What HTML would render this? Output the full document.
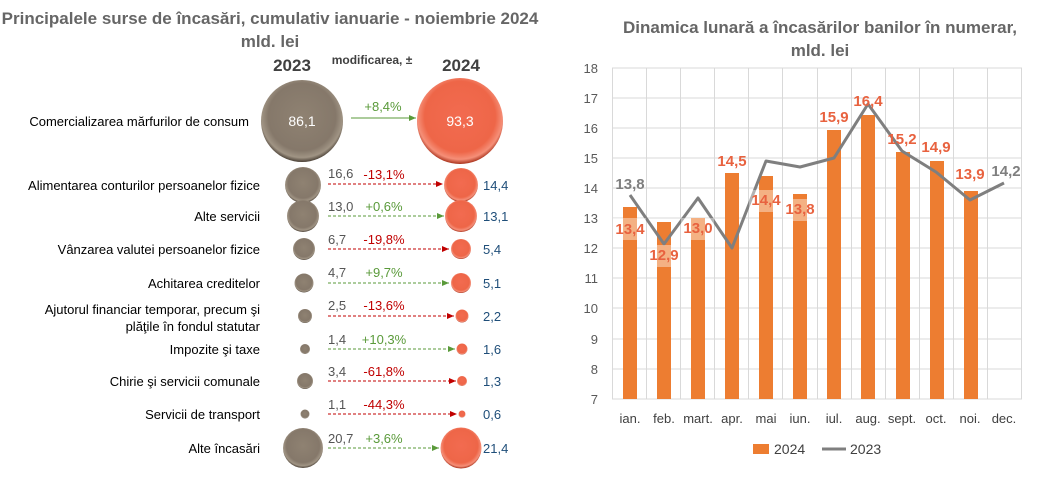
<!DOCTYPE html>
<html><head><meta charset="utf-8"><style>
body{margin:0;background:#fff;}
text{font-family:"Liberation Sans",Arial,sans-serif;}
</style></head><body>
<svg width="1048" height="487" viewBox="0 0 1048 487" xmlns="http://www.w3.org/2000/svg">
<defs>
<radialGradient id="gb" cx="50%" cy="45%" r="55%">
<stop offset="0" stop-color="#8f8272"/><stop offset="0.75" stop-color="#85786a"/><stop offset="0.9" stop-color="#a09484"/><stop offset="1" stop-color="#4a4036"/></radialGradient>
<radialGradient id="go" cx="50%" cy="45%" r="55%">
<stop offset="0" stop-color="#f26b50"/><stop offset="0.75" stop-color="#ee6648"/><stop offset="0.9" stop-color="#f58f78"/><stop offset="1" stop-color="#a8321c"/></radialGradient>
<marker id="ag" markerWidth="8" markerHeight="8" refX="7" refY="4" orient="auto"><path d="M0,1 L7,4 L0,7 z" fill="#5a9a3a"/></marker>
<marker id="ar" markerWidth="8" markerHeight="8" refX="7" refY="4" orient="auto"><path d="M0,1 L7,4 L0,7 z" fill="#c00000"/></marker>
</defs>
<text x="270" y="24" text-anchor="middle" font-size="17" font-weight="bold" fill="#666">Principalele surse de încasări, cumulativ ianuarie - noiembrie 2024</text>
<text x="270" y="47" text-anchor="middle" font-size="17" font-weight="bold" fill="#666">mld. lei</text>
<text x="292" y="71" text-anchor="middle" font-size="17" font-weight="bold" fill="#404040">2023</text>
<text x="372" y="64" text-anchor="middle" font-size="12" font-weight="bold" fill="#404040">modificarea, ±</text>
<text x="461" y="71" text-anchor="middle" font-size="17" font-weight="bold" fill="#404040">2024</text>
<g font-size="13" fill="#000" text-anchor="end">
<text x="249" y="126">Comercializarea mărfurilor de consum</text>
<text x="260" y="190">Alimentarea conturilor persoanelor fizice</text>
<text x="260" y="221">Alte servicii</text>
<text x="260" y="254">Vânzarea valutei persoanelor fizice</text>
<text x="260" y="288">Achitarea creditelor</text>
<text x="260" y="314">Ajutorul financiar temporar, precum şi</text>
<text x="260" y="331">plăţile în fondul statutar</text>
<text x="260" y="354">Impozite şi taxe</text>
<text x="260" y="386">Chirie şi servicii comunale</text>
<text x="260" y="419">Servicii de transport</text>
<text x="260" y="453">Alte încasări</text>
</g>
<circle cx="302" cy="121" r="41" fill="url(#gb)"/><text x="302" y="126" text-anchor="middle" font-size="14" fill="#fff">86,1</text>
<circle cx="460" cy="121" r="43" fill="url(#go)"/><text x="460" y="126" text-anchor="middle" font-size="14" fill="#fff">93,3</text>
<line x1="351" y1="118" x2="416" y2="118" stroke="#5a9a3a" stroke-width="1" marker-end="url(#ag)"/>
<text x="383" y="111" text-anchor="middle" font-size="13" fill="#5a9a3a">+8,4%</text>
<g font-size="13">
<!-- rows: y, r1, r2, v1, pct, color, v2 -->
<circle cx="303" cy="185" r="18" fill="url(#gb)"/><circle cx="461" cy="185" r="17" fill="url(#go)"/>
<text x="328" y="178" fill="#555">16,6</text><text x="384" y="179" text-anchor="middle" fill="#c00000">-13,1%</text>
<line x1="328" y1="184" x2="443" y2="184" stroke="#c00000" stroke-dasharray="3,2" marker-end="url(#ar)"/><text x="483" y="190" fill="#1f4e79">14,4</text>

<circle cx="303" cy="216" r="16" fill="url(#gb)"/><circle cx="461" cy="216" r="16" fill="url(#go)"/>
<text x="328" y="211" fill="#555">13,0</text><text x="384" y="211" text-anchor="middle" fill="#5a9a3a">+0,6%</text>
<line x1="328" y1="216" x2="444" y2="216" stroke="#5a9a3a" stroke-dasharray="3,2" marker-end="url(#ag)"/><text x="483" y="221" fill="#1f4e79">13,1</text>

<circle cx="304" cy="249" r="11" fill="url(#gb)"/><circle cx="461" cy="249" r="10" fill="url(#go)"/>
<text x="328" y="244" fill="#555">6,7</text><text x="384" y="244" text-anchor="middle" fill="#c00000">-19,8%</text>
<line x1="328" y1="249" x2="449" y2="249" stroke="#c00000" stroke-dasharray="3,2" marker-end="url(#ar)"/><text x="483" y="254" fill="#1f4e79">5,4</text>

<circle cx="304" cy="283" r="9.5" fill="url(#gb)"/><circle cx="461" cy="283" r="10" fill="url(#go)"/>
<text x="328" y="277" fill="#555">4,7</text><text x="384" y="277" text-anchor="middle" fill="#5a9a3a">+9,7%</text>
<line x1="328" y1="283" x2="449" y2="283" stroke="#5a9a3a" stroke-dasharray="3,2" marker-end="url(#ag)"/><text x="483" y="288" fill="#1f4e79">5,1</text>

<circle cx="305" cy="316" r="7" fill="url(#gb)"/><circle cx="462" cy="316" r="6.5" fill="url(#go)"/>
<text x="328" y="310" fill="#555">2,5</text><text x="384" y="310" text-anchor="middle" fill="#c00000">-13,6%</text>
<line x1="328" y1="316" x2="454" y2="316" stroke="#c00000" stroke-dasharray="3,2" marker-end="url(#ar)"/><text x="483" y="321" fill="#1f4e79">2,2</text>

<circle cx="305" cy="349" r="5" fill="url(#gb)"/><circle cx="462" cy="349" r="5.5" fill="url(#go)"/>
<text x="328" y="344" fill="#555">1,4</text><text x="384" y="344" text-anchor="middle" fill="#5a9a3a">+10,3%</text>
<line x1="328" y1="349" x2="455" y2="349" stroke="#5a9a3a" stroke-dasharray="3,2" marker-end="url(#ag)"/><text x="483" y="354" fill="#1f4e79">1,6</text>

<circle cx="305" cy="381" r="8" fill="url(#gb)"/><circle cx="462" cy="381" r="5" fill="url(#go)"/>
<text x="328" y="376" fill="#555">3,4</text><text x="384" y="376" text-anchor="middle" fill="#c00000">-61,8%</text>
<line x1="328" y1="381" x2="456" y2="381" stroke="#c00000" stroke-dasharray="3,2" marker-end="url(#ar)"/><text x="483" y="386" fill="#1f4e79">1,3</text>

<circle cx="305" cy="414" r="4.5" fill="url(#gb)"/><circle cx="462" cy="414" r="3.5" fill="url(#go)"/>
<text x="328" y="409" fill="#555">1,1</text><text x="384" y="409" text-anchor="middle" fill="#c00000">-44,3%</text>
<line x1="328" y1="414" x2="457" y2="414" stroke="#c00000" stroke-dasharray="3,2" marker-end="url(#ar)"/><text x="483" y="419" fill="#1f4e79">0,6</text>

<circle cx="303" cy="448" r="20" fill="url(#gb)"/><circle cx="461" cy="448" r="20.5" fill="url(#go)"/>
<text x="328" y="443" fill="#555">20,7</text><text x="384" y="443" text-anchor="middle" fill="#5a9a3a">+3,6%</text>
<line x1="328" y1="448" x2="439" y2="448" stroke="#5a9a3a" stroke-dasharray="3,2" marker-end="url(#ag)"/><text x="483" y="453" fill="#1f4e79">21,4</text>
</g>

<!-- right chart -->
<text x="820" y="33" text-anchor="middle" font-size="17" font-weight="bold" fill="#666">Dinamica lunară a încasărilor banilor în numerar,</text>
<text x="820" y="56" text-anchor="middle" font-size="17" font-weight="bold" fill="#666">mld. lei</text>
<g stroke="#d9d9d9" stroke-width="1">
<line x1="612" y1="68" x2="1022" y2="68"/><line x1="612" y1="98" x2="1022" y2="98"/><line x1="612" y1="128" x2="1022" y2="128"/><line x1="612" y1="158" x2="1022" y2="158"/><line x1="612" y1="188" x2="1022" y2="188"/><line x1="612" y1="218" x2="1022" y2="218"/><line x1="612" y1="248" x2="1022" y2="248"/><line x1="612" y1="278" x2="1022" y2="278"/><line x1="612" y1="308" x2="1022" y2="308"/><line x1="612" y1="339" x2="1022" y2="339"/><line x1="612" y1="369" x2="1022" y2="369"/><line x1="612" y1="399" x2="1022" y2="399"/>
<line x1="612.5" y1="68" x2="612.5" y2="399"/><line x1="646.5" y1="68" x2="646.5" y2="399"/><line x1="680.5" y1="68" x2="680.5" y2="399"/><line x1="714.5" y1="68" x2="714.5" y2="399"/><line x1="748.5" y1="68" x2="748.5" y2="399"/><line x1="782.5" y1="68" x2="782.5" y2="399"/><line x1="817.5" y1="68" x2="817.5" y2="399"/><line x1="851.5" y1="68" x2="851.5" y2="399"/><line x1="885.5" y1="68" x2="885.5" y2="399"/><line x1="919.5" y1="68" x2="919.5" y2="399"/><line x1="953.5" y1="68" x2="953.5" y2="399"/><line x1="987.5" y1="68" x2="987.5" y2="399"/><line x1="1021.5" y1="68" x2="1021.5" y2="399"/>
</g>
<g font-size="13" fill="#595959" text-anchor="end">
<text x="598" y="73">18</text><text x="598" y="103">17</text><text x="598" y="133">16</text><text x="598" y="163">15</text><text x="598" y="193">14</text><text x="598" y="223">13</text><text x="598" y="253">12</text><text x="598" y="283">11</text><text x="598" y="313">10</text><text x="598" y="344">9</text><text x="598" y="374">8</text><text x="598" y="404">7</text>
</g>
<g fill="#ed7d31">
<rect x="623" y="207" width="14" height="192"/><rect x="657" y="222" width="14" height="177"/><rect x="691" y="218" width="14" height="181"/><rect x="725" y="173" width="14" height="226"/><rect x="759" y="176" width="14" height="223"/><rect x="793" y="194" width="14" height="205"/><rect x="827" y="130" width="14" height="269"/><rect x="861" y="115" width="14" height="284"/><rect x="896" y="152" width="14" height="247"/><rect x="930" y="161" width="14" height="238"/><rect x="964" y="191" width="14" height="208"/>
</g>
<polyline fill="none" stroke="#7f7f7f" stroke-width="3" stroke-linejoin="round" points="630,195 664,244 698,198 732,248 766,161 800,167 834,158 868,104 902,151 936,172 970,200 1004,183"/>
<g font-size="15" font-weight="bold" fill="#e8623f" text-anchor="middle">
<rect x="613" y="218" width="33" height="22" fill="#fff" opacity="0.4"/><text x="630" y="234">13,4</text>
<rect x="647" y="245" width="33" height="22" fill="#fff" opacity="0.4"/><text x="664" y="260">12,9</text>
<rect x="681" y="218" width="33" height="22" fill="#fff" opacity="0.4"/><text x="698" y="233">13,0</text>
<text x="732" y="166">14,5</text>
<rect x="749" y="190" width="33" height="22" fill="#fff" opacity="0.4"/><text x="766" y="205">14,4</text>
<rect x="783" y="199" width="33" height="22" fill="#fff" opacity="0.4"/><text x="800" y="214">13,8</text>
<text x="834" y="122">15,9</text>
<text x="868" y="106">16,4</text>
<text x="902" y="144">15,2</text>
<text x="936" y="152">14,9</text>
<text x="970" y="179">13,9</text>
</g>
<g font-size="15" font-weight="bold" fill="#7f7f7f" text-anchor="middle">
<text x="630" y="189">13,8</text><text x="1006" y="176">14,2</text>
</g>
<g font-size="13" fill="#404040" text-anchor="middle">
<text x="630" y="423">ian.</text><text x="664" y="423">feb.</text><text x="698" y="423">mart.</text><text x="732" y="423">apr.</text><text x="766" y="423">mai</text><text x="800" y="423">iun.</text><text x="834" y="423">iul.</text><text x="868" y="423">aug.</text><text x="902" y="423">sept.</text><text x="936" y="423">oct.</text><text x="970" y="423">noi.</text><text x="1004" y="423">dec.</text>
</g>
<rect x="753" y="444" width="16" height="10" fill="#ed7d31"/>
<text x="774" y="454" font-size="14" fill="#404040">2024</text>
<line x1="822" y1="449" x2="846" y2="449" stroke="#7f7f7f" stroke-width="3"/>
<text x="850" y="454" font-size="14" fill="#404040">2023</text>
</svg>
</body></html>
